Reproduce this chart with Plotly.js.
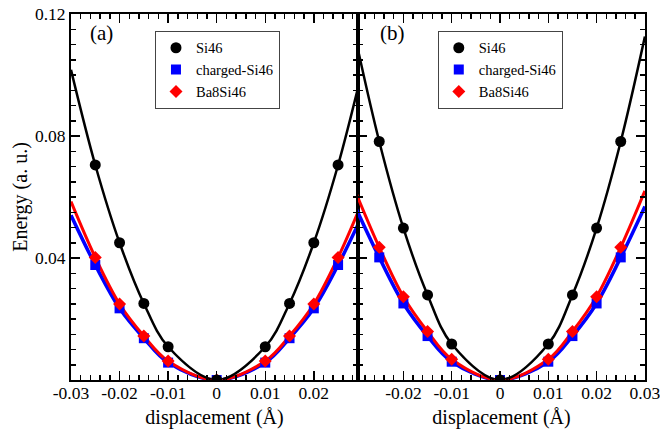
<!DOCTYPE html>
<html>
<head>
<meta charset="utf-8">
<script src="https://cdn.plot.ly/plotly-3.0.1.min.js"></script>
<style>html,body{margin:0;padding:0;background:#fff;}#chart{width:660px;height:431px;}</style>
</head>
<body>
<div id="chart"></div>
<script>
// ---- data ----
var xPoints = [-0.025, -0.02, -0.015, -0.01, 0, 0.01, 0.015, 0.02, 0.025];
var xCurve  = [-0.03, -0.025, -0.02, -0.015, -0.01, 0, 0.01, 0.015, 0.02, 0.025, 0.03];

// panel (a)
var si46A    = [0.0705, 0.0450, 0.0251, 0.0109, 0, 0.0109, 0.0251, 0.0450, 0.0705];
var chargedA = [0.0377, 0.0235, 0.0137, 0.0057, 0, 0.0057, 0.0137, 0.0235, 0.0377];
var ba8A     = [0.0402, 0.0249, 0.0144, 0.0062, 0, 0.0062, 0.0144, 0.0249, 0.0402];
var si46CurveA    = [0.1017, 0.0705, 0.0450, 0.0251, 0.0109, 0, 0.0109, 0.0251, 0.0450, 0.0705, 0.1017];
var chargedCurveA = [0.0540, 0.0377, 0.0235, 0.0137, 0.0057, 0, 0.0057, 0.0137, 0.0235, 0.0377, 0.0540];
var ba8CurveA     = [0.0585, 0.0402, 0.0249, 0.0144, 0.0062, 0, 0.0062, 0.0144, 0.0249, 0.0402, 0.0585];

// panel (b)
var si46B    = [0.0782, 0.0498, 0.0279, 0.0118, 0, 0.0118, 0.0279, 0.0498, 0.0782];
var chargedB = [0.0402, 0.0251, 0.0144, 0.0060, 0, 0.0060, 0.0144, 0.0251, 0.0402];
var ba8B     = [0.0435, 0.0273, 0.0159, 0.0068, 0, 0.0068, 0.0159, 0.0273, 0.0435];
var si46CurveB    = [0.1126, 0.0782, 0.0498, 0.0279, 0.0118, 0, 0.0118, 0.0279, 0.0498, 0.0782, 0.1126];
var chargedCurveB = [0.0569, 0.0402, 0.0251, 0.0144, 0.0060, 0, 0.0060, 0.0144, 0.0251, 0.0402, 0.0569];
var ba8CurveB     = [0.0620, 0.0435, 0.0273, 0.0159, 0.0068, 0, 0.0068, 0.0159, 0.0273, 0.0435, 0.0620];

var seriesNames = ["Si46", "charged-Si46", "Ba8Si46"];
var panelLabels = ["(a)", "(b)"];
var xTickValsA = [-0.03, -0.02, -0.01, 0, 0.01, 0.02];
var xTickTextA = ["-0.03", "-0.02", "-0.01", "0", "0.01", "0.02"];
var xTickValsB = [-0.02, -0.01, 0, 0.01, 0.02, 0.03];
var xTickTextB = ["-0.02", "-0.01", "0", "0.01", "0.02", "0.03"];
var yTickVals = [0.04, 0.08, 0.12];
var yTickText = ["0.04", "0.08", "0.12"];
var xTitle = "displacement (Å)";
var yTitle = "Energy (a. u.)";

// ---- styling ----
var FONT = "Liberation Serif";
var colors = ["#000000", "#0000ff", "#ff0000"];
var symbols = ["circle", "square", "diamond"];
var msizes = [11, 10, 10];
var lwidths = [2.5, 3.5, 3];

function build(panel) {
  var xa = panel === 0 ? "x" : "x2";
  var ya = panel === 0 ? "y" : "y2";
  var lg = panel === 0 ? "legend" : "legend2";
  var curves = panel === 0 ? [si46CurveA, chargedCurveA, ba8CurveA] : [si46CurveB, chargedCurveB, ba8CurveB];
  var pts = panel === 0 ? [si46A, chargedA, ba8A] : [si46B, chargedB, ba8B];
  var out = [];
  var order = [1, 2, 0];
  order.forEach(function (i) {
    out.push({
      x: xCurve, y: curves[i], xaxis: xa, yaxis: ya, type: "scatter", mode: "lines",
      line: {color: colors[i], width: lwidths[i], shape: "spline", smoothing: 1},
      showlegend: false, hoverinfo: "skip"
    });
  });
  order.forEach(function (i) {
    out.push({
      x: xPoints, y: pts[i], xaxis: xa, yaxis: ya, type: "scatter", mode: "markers",
      name: seriesNames[i], legend: lg, legendrank: i + 1,
      marker: {color: colors[i], symbol: symbols[i], size: msizes[i], line: {width: 0}}
    });
  });
  return out;
}

var traces = build(0).concat(build(1));

function xaxisCfg(domain, range, tv, tt) {
  return {
    domain: domain, range: range, tickvals: tv, ticktext: tt,
    ticks: "inside", ticklen: 9, tickwidth: 1.5, tickcolor: "#000",
    showline: true, linecolor: "#000", linewidth: 2, mirror: "ticks",
    showgrid: false, zeroline: false, ticklabeloverflow: "allow", ticklabelstandoff: -4,
    tickfont: {family: FONT, size: 17.5, color: "#000"},
    minor: {dtick: 0.002, tick0: 0, ticks: "inside", ticklen: 5, tickwidth: 1.5, tickcolor: "#000", showgrid: false},
    title: {text: xTitle, font: {family: FONT, size: 20, color: "#000"}, standoff: 8}
  };
}
function yaxisCfg(domain, labels) {
  return {
    domain: domain, range: [0, 0.12], tickvals: yTickVals, ticktext: yTickText,
    showticklabels: labels,
    ticks: "inside", ticklen: 9, tickwidth: 1.5, tickcolor: "#000",
    showline: true, linecolor: "#000", linewidth: 2, mirror: "ticks",
    showgrid: false, zeroline: false,
    tickfont: {family: FONT, size: 17.5, color: "#000"},
    minor: {dtick: 0.005, tick0: 0, ticks: "inside", ticklen: 5, tickwidth: 1.5, tickcolor: "#000", showgrid: false},
    title: labels ? {text: yTitle, font: {family: FONT, size: 20, color: "#000"}, standoff: 2} : {text: ""}
  };
}

var legendCommon = {
  font: {family: FONT, size: 14.5, color: "#000"},
  bgcolor: "#fff", bordercolor: "#444", borderwidth: 1,
  xanchor: "left", yanchor: "top", tracegroupgap: 0
};

var layout = {
  width: 660, height: 431,
  font: {family: FONT, color: "#000"},
  margin: {l: 71, r: 15, t: 14, b: 51},
  paper_bgcolor: "#fff", plot_bgcolor: "#fff",
  showlegend: true,
  xaxis: xaxisCfg([0, 0.5], [-0.03, 0.0291], xTickValsA, xTickTextA),
  xaxis2: xaxisCfg([0.5, 1], [-0.0294, 0.03002], xTickValsB, xTickTextB),
  yaxis: Object.assign(yaxisCfg([0, 1], true), {anchor: "x"}),
  yaxis2: Object.assign(yaxisCfg([0, 1], false), {anchor: "x2", matches: "y"}),
  legend: Object.assign({}, legendCommon, {x: 0.1463, y: 0.954}),
  legend2: Object.assign({}, legendCommon, {x: 0.639, y: 0.954}),
  annotations: [
    {text: panelLabels[0], xref: "paper", yref: "paper", x: 0.03, y: 0.985, xanchor: "left", yanchor: "top",
     showarrow: false, font: {family: FONT, size: 21, color: "#000"}},
    {text: panelLabels[1], xref: "paper", yref: "paper", x: 0.534, y: 0.985, xanchor: "left", yanchor: "top",
     showarrow: false, font: {family: FONT, size: 21, color: "#000"}}
  ]
};

layout.xaxis.anchor = "y";
layout.xaxis2.anchor = "y2";

Plotly.newPlot("chart", traces, layout, {displayModeBar: false, staticPlot: true});
</script>
</body>
</html>
